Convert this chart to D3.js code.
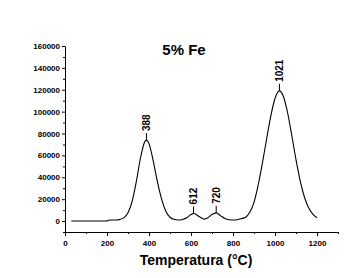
<!DOCTYPE html>
<html>
<head>
<meta charset="utf-8">
<script src="https://cdn.jsdelivr.net/npm/d3@7"></script>
<style>
  body { margin: 0; background: #fff; }
  svg { display: block; font-family: Arial, "Liberation Sans", sans-serif; }
</style>
</head>
<body>
<svg id="drawing_region"></svg>
<script>
// TPR trace: temperature (°C) and signal
const temps = [30, 200, 210, 250, 260, 280, 300, 320, 340, 360, 380, 388, 400, 420, 440, 460, 480, 500, 520, 540,
               560, 580, 600, 612, 620, 640, 665, 680, 700, 720, 740, 760, 780, 800, 820, 840, 860, 880, 900, 920,
               940, 960, 980, 1000, 1021, 1040, 1060, 1080, 1100, 1120, 1140, 1160, 1180, 1200];
const signal = [0, 0, 1000, 1000, 1400, 2900, 7500, 18200, 36500, 58100, 72600, 74000, 70800, 55000, 36000, 20000, 9000, 3500, 1600, 1000,
                1500, 3000, 6000, 7000, 6500, 4000, 1800, 3000, 6000, 7500, 5000, 2500, 1200, 900, 1200, 2200, 3500, 8000, 17000, 33000,
                53000, 75000, 96000, 112000, 119000, 113900, 99000, 78200, 56100, 36700, 22000, 12100, 6400, 3000];
const peakTemps = [388, 612, 720, 1021];
const peakValues = [74000, 7000, 7500, 119000];
const yTicks = [0, 20000, 40000, 60000, 80000, 100000, 120000, 140000, 160000];
const xTicks = [0, 200, 400, 600, 800, 1000, 1200];

const config = {
    width: 357,
    height: 278,
    plot: {left: 65, right: 338, top: 46, bottom: 232},
    title: '5% Fe',
    xlabel: 'Temperatura (°C)'
};

const data = temps.map((t, i) => ({x: t, y: signal[i]}));

const svg = d3.select('#drawing_region')
    .attr('width', config.width)
    .attr('height', config.height);

svg.append('rect')
    .attr('width', config.width)
    .attr('height', config.height)
    .attr('fill', '#fff');

const xscale = d3.scaleLinear()
    .domain([0, 1300])
    .range([config.plot.left, config.plot.right]);

const yscale = d3.scaleLinear()
    .domain([-10000, 160000])
    .range([config.plot.bottom, config.plot.top]);

// minor ticks first, then major ones with labels
svg.append('g')
    .attr('transform', `translate(0, ${config.plot.bottom})`)
    .call(d3.axisBottom(xscale).tickValues(d3.range(100, 1301, 200)).tickSize(2).tickSizeOuter(0).tickFormat(''))
    .call(g => g.select('.domain').remove());

svg.append('g')
    .attr('transform', `translate(0, ${config.plot.bottom})`)
    .call(d3.axisBottom(xscale).tickValues(xTicks).tickSize(4).tickSizeOuter(0).tickPadding(4).tickFormat(d3.format('d')))
    .call(g => g.selectAll('text').attr('font-size', 8).attr('font-weight', 'bold').attr('fill', '#000'));

svg.append('g')
    .attr('transform', `translate(${config.plot.left}, 0)`)
    .call(d3.axisLeft(yscale).tickValues(d3.range(-10000, 160000, 20000)).tickSize(2).tickSizeOuter(0).tickFormat(''))
    .call(g => g.select('.domain').remove());

svg.append('g')
    .attr('transform', `translate(${config.plot.left}, 0)`)
    .call(d3.axisLeft(yscale).tickValues(yTicks).tickSize(3).tickSizeOuter(0).tickPadding(2).tickFormat(d3.format('d')))
    .call(g => g.selectAll('text').attr('font-size', 8).attr('font-weight', 'bold').attr('fill', '#000'));

svg.selectAll('.domain, .tick line').attr('stroke', '#000');

svg.append('path')
    .datum(data)
    .attr('fill', 'none')
    .attr('stroke', '#000')
    .attr('stroke-width', 1.1)
    .attr('d', d3.line().x(d => xscale(d.x)).y(d => yscale(d.y)).curve(d3.curveMonotoneX));

// peak markers and labels
peakTemps.forEach((t, i) => {
    const px = xscale(t);
    const py = yscale(peakValues[i]);
    svg.append('line')
        .attr('x1', px).attr('x2', px)
        .attr('y1', py).attr('y2', py - 7)
        .attr('stroke', '#000');
    svg.append('text')
        .attr('transform', `translate(${px + 3.5}, ${py - 9}) rotate(-90)`)
        .attr('font-size', 10)
        .attr('font-weight', 'bold')
        .text(t);
});

svg.append('text')
    .attr('x', 184)
    .attr('y', 55)
    .attr('text-anchor', 'middle')
    .attr('font-size', 15)
    .attr('font-weight', 'bold')
    .text(config.title);

svg.append('text')
    .attr('x', 196)
    .attr('y', 265)
    .attr('text-anchor', 'middle')
    .attr('font-size', 14)
    .attr('font-weight', 'bold')
    .text(config.xlabel);
</script>
</body>
</html>
